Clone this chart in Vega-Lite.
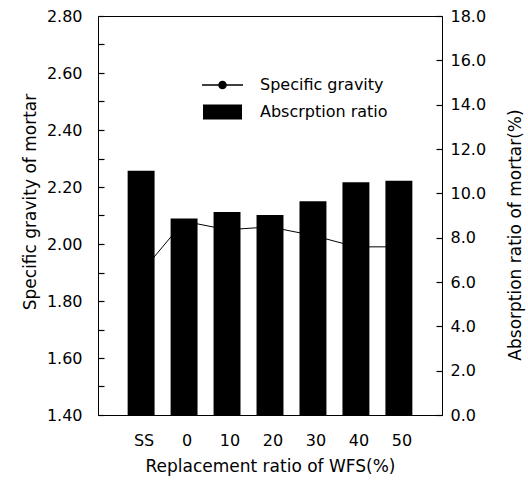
{
  "$schema": "https://vega.github.io/schema/vega-lite/v6.json",
  "autosize": "none",
  "padding": {"left": 98, "top": 16, "right": 86, "bottom": 73},
  "width": 344,
  "height": 399,
  "background": "white",
  "config": {
    "font": "DejaVu Sans",
    "view": {"stroke": "black", "strokeWidth": 1},
    "axis": {
      "labelColor": "black", "titleColor": "black", "domainColor": "black", "tickColor": "black",
      "labelFontSize": 16, "titleFontSize": 17, "titleFontWeight": "normal", "grid": false,
      "labelFont": "DejaVu Sans", "titleFont": "DejaVu Sans", "domainWidth": 1, "tickWidth": 1.2, "ticks": true
    }
  },
  "data": {
    "values": [
      {"wfs": "SS", "sg": 1.90, "abs": 11.02},
      {"wfs": "0", "sg": 2.08, "abs": 8.87},
      {"wfs": "10", "sg": 2.05, "abs": 9.16},
      {"wfs": "20", "sg": 2.06, "abs": 9.02},
      {"wfs": "30", "sg": 2.03, "abs": 9.64},
      {"wfs": "40", "sg": 1.99, "abs": 10.50},
      {"wfs": "50", "sg": 1.99, "abs": 10.57}
    ]
  },
  "encoding": {
    "x": {"field": "wfs", "type": "nominal", "sort": null,
      "scale": {"domain": ["SS", "0", "10", "20", "30", "40", "50"], "paddingInner": 0.373, "paddingOuter": 0.69},
      "axis": {"title": "Replacement ratio of WFS(%)", "labelAngle": 0, "ticks": false, "labelPadding": 17, "titlePadding": 10, "labelOffset": 3}}
  },
  "layer": [
    {
      "encoding": {
        "y": {"field": "sg", "type": "quantitative", "title": "Specific gravity of mortar",
          "scale": {"domain": [1.4, 2.8], "nice": false, "zero": false},
          "axis": {"orient": "left", "values": [1.4, 1.5, 1.6, 1.7, 1.8, 1.9, 2.0, 2.1, 2.2, 2.3, 2.4, 2.5, 2.6, 2.7, 2.8],
            "labelExpr": "(round(datum.value*10) % 2 == 0) ? format(datum.value, '.2f') : ''",
            "offset": -6, "domain": false, "ticks": true, "tickSize": 6, "labelPadding": 16,
            "titleX": -73.5, "titleY": 185.5, "titleAngle": -90, "titleAlign": "center", "titleBaseline": "middle"}}
      },
      "layer": [
        {
          "mark": {"type": "line", "color": "black", "strokeWidth": 1}
        },
        {
          "mark": {"type": "point", "filled": true, "color": "black", "opacity": 1, "size": 16},
          "encoding": {
            "shape": {
              "datum": "Specific gravity",
              "scale": {
                "domain": ["Specific gravity", "Abscrption ratio"],
                "range": [
                  "M-2.05,-0.07H2.05V0.07H-2.05ZM0.43,0A0.43,0.43,0,1,1,-0.43,0A0.43,0.43,0,1,1,0.43,0Z",
                  "M-1.95,-0.75H1.95V0.75H-1.95Z"
                ]
              },
              "legend": {
                "orient": "none", "legendX": 114.5, "legendY": 59, "title": null,
                "symbolSize": 400, "labelFontSize": 16, "labelColor": "black", "labelFont": "DejaVu Sans",
                "labelOffset": 27.5, "rowPadding": 9, "padding": 0,
                "symbolStrokeWidth": 0, "symbolFillColor": "black", "symbolStrokeColor": "black",
                "encode": {"symbols": {"fill": {"value": "black"}, "opacity": {"value": 1}, "size": {"value": 400}}}
              }
            }
          }
        }
      ]
    },
    {
      "mark": {"type": "bar", "color": "black", "opacity": 1},
      "encoding": {
        "y": {"field": "abs", "type": "quantitative", "title": "Absorption ratio of mortar(%)",
          "scale": {"domain": [0, 18], "nice": false},
          "axis": {"orient": "right", "values": [0, 2, 4, 6, 8, 10, 12, 14, 16, 18], "format": ".1f",
            "offset": -6, "domain": false, "ticks": true, "tickSize": 6, "labelPadding": 8,
            "titleX": 79, "titleY": 218.5, "titleAngle": -90, "titleAlign": "center", "titleBaseline": "middle"}}
      }
    }
  ],
  "resolve": {"scale": {"y": "independent"}}
}
